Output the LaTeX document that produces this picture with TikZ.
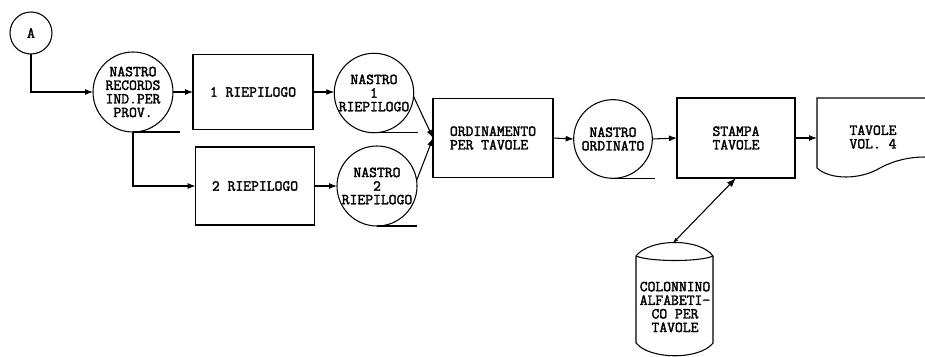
\documentclass[tikz,border=0pt]{standalone}
\usepackage{fontspec}
\setmonofont{Latin Modern Mono}[AutoFakeBold=2.2]
\tikzset{
  every node/.style={font=\ttfamily\bfseries\fontsize{11.4}{10.2}\selectfont, inner sep=0pt, outer sep=0pt},
  proc/.style={draw, rectangle, line width=0.8pt, minimum width=#1},
  proc/.default=90pt,
  tape/.style={draw, circle, line width=0.8pt, minimum size=#1, align=center},
  tape/.default=60pt,
  arr/.style={line width=0.8pt, -{Latex[length=6pt,width=4.5pt]}},
}
\usetikzlibrary{arrows.meta}
\begin{document}
\begin{tikzpicture}[x=0.75pt, y=-0.75pt, line width=0.8pt]
            \useasboundingbox (0,0) rectangle (925,357);

            % connettore e nastro di ingresso
            \node[tape=31.5pt] (A) at (31,33) {A};
            \node[tape=60pt] (rec) at (133,92) {NASTRO\\RECORDS\\IND.PER\\PROV.};
            \draw (rec.south) -- ++(47,0);

            % riepiloghi
            \node[proc, minimum height=56pt] (r1) at (253,92) {1 RIEPILOGO};
            \node[proc=89pt, minimum height=58.5pt] (r2) at (255,186) {2 RIEPILOGO};
            \node[tape=58.5pt] (n1) at (374,93) {NASTRO\\1\\RIEPILOGO};
            \node[tape=60pt] (n2) at (377,186) {NASTRO\\2\\RIEPILOGO};
            \draw (n1.south) -- ++(44,0);
            \draw (n2.south) -- ++(40,0);

            % ordinamento e stampa
            \node[proc, minimum height=59pt, align=left] (ord) at (493,138) {ORDINAMENTO\\PER TAVOLE};
            \node[tape=59pt] (nord) at (613,139) {NASTRO\\ORDINATO};
            \draw (nord.south) -- ++(42,0);
            \node[proc=88.5pt, minimum height=60pt, align=center] (stampa) at (736,138) {STAMPA\\TAVOLE};

            % documento
            \draw (925,98) -- (817,98) -- (817,168)
                .. controls (830,180) and (860,180) .. (880,168)
                .. controls (895,160) and (910,157) .. (925,157);
            \coordinate (docin) at (817,138);
            \node[align=left] (doc) at (873,137) {TAVOLE\\VOL. 4};

            % colonnino
            \draw (636,256) -- (636,343) .. controls (650,360) and (700,360) .. (713,343) -- (713,256);
            \draw (636,256) .. controls (650,238) and (700,238) .. (713,256);
            \draw (636,256) .. controls (650,262) and (700,262) .. (713,256);
            \coordinate (coltop) at (673,243);
            \node[align=center] (col) at (675,307) {COLONNINO\\ALFABETI-\\CO PER\\TAVOLE};

            % collegamenti
            \draw[arr] (A.south) |- (rec.west);
            \draw[arr] (rec.east) -- (r1.west);
            \draw[arr] (rec.south) |- (r2.west);
            \draw[arr] (r1.east) -- (r1.east -| n1.west);
            \draw[arr] (r2.east) -- (n2.west);
            \draw[arr] (n1.-5) -- (ord.west);
            \draw[arr] (n2.8) -- (ord.west);
            \draw[arr] (ord.east) -- (nord.west);
            \draw[arr] (nord.east) -- (stampa.west);
            \draw[arr] (stampa.east) -- (docin);
            \draw[line width=0.8pt, {Latex[length=4pt,width=3pt]}-{Latex[length=7pt,width=5pt]}] (coltop) -- (stampa.south);
        \end{tikzpicture}
\end{document}
